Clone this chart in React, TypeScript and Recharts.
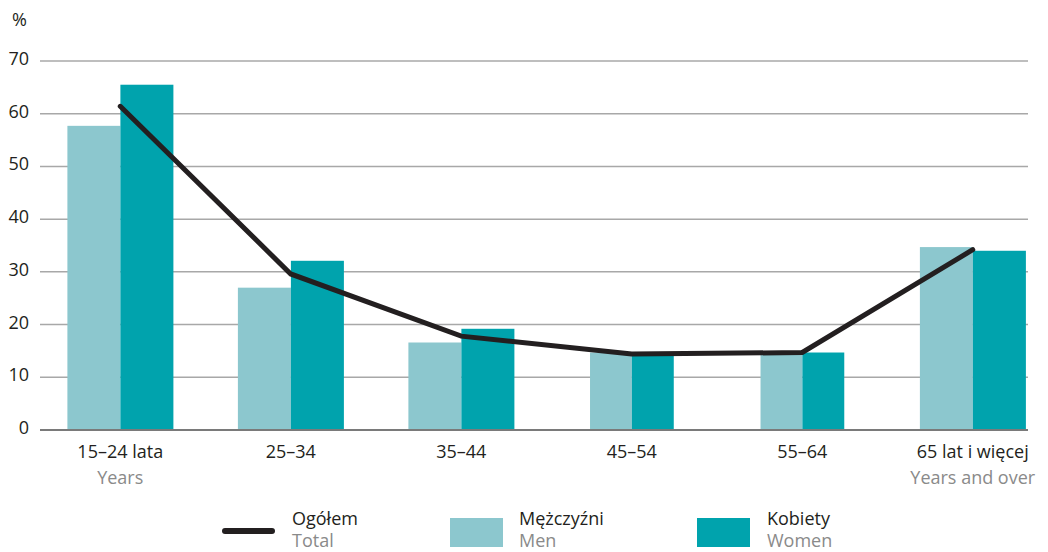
import { ComposedChart, Bar, Line, XAxis, YAxis, CartesianGrid } from "recharts";

const CATEGORIES = ["15–24 lata", "25–34", "35–44", "45–54", "55–64", "65 lat i więcej"];
const SUBLABELS = ["Years", "", "", "", "", "Years and over"];
const MEN = [57.7, 27.0, 16.6, 14.7, 14.6, 34.7];
const WOMEN = [65.5, 32.1, 19.2, 14.7, 14.7, 34.0];
const TOTAL = [61.4, 29.6, 17.8, 14.4, 14.7, 34.2];
const Y_TICKS = [0, 10, 20, 30, 40, 50, 60, 70];

// the two middle groups are drawn with slimmer bars in the original
const SLIM = ["45–54", "55–64"];

const MEN_COLOR = "#8cc7ce";
const WOMEN_COLOR = "#00a3ad";
const LINE_COLOR = "#231f20";
const SUB_COLOR = "#8a8a8a";
const FONT = "'Open Sans', sans-serif";

const data = CATEGORIES.map((cat, i) => ({
  cat,
  sub: SUBLABELS[i],
  men: MEN[i],
  women: WOMEN[i],
  total: TOTAL[i],
}));

const barShape = (side: "left" | "right") => (props: any) => {
  const { x, y, width, height, fill, payload } = props;
  const w = SLIM.includes(payload.cat) ? width * 0.79 : width;
  const nx = side === "left" ? x + width - w : x;
  return <rect x={nx} y={y} width={w} height={height} fill={fill} />;
};

const XTick = (props: any) => {
  const { x, y, payload, index } = props;
  const sub = SUBLABELS[index];
  return (
    <g>
      <text x={x} y={y + 28} textAnchor="middle" fill={LINE_COLOR} fontSize={18} fontFamily={FONT}>
        {payload.value}
      </text>
      {sub && (
        <text x={x} y={y + 54} textAnchor="middle" fill={SUB_COLOR} fontSize={18} fontFamily={FONT}>
          {sub}
        </text>
      )}
    </g>
  );
};

const YTick = (props: any) => {
  const { x, y, payload } = props;
  return (
    <text x={x} y={y + 4} textAnchor="end" fill={LINE_COLOR} fontSize={18} fontFamily={FONT}>
      {payload.value}
    </text>
  );
};

const legendText = { position: "absolute" as const, fontSize: 18, fontFamily: FONT, lineHeight: "22px" };

const LegendItem = ({ left, title, sub }: { left: number; title: string; sub: string }) => (
  <div style={{ ...legendText, left, top: 507 }}>
    <div style={{ color: LINE_COLOR }}>{title}</div>
    <div style={{ color: SUB_COLOR }}>{sub}</div>
  </div>
);

export default function App() {
  return (
    <div style={{ position: "absolute", left: 0, top: 0, width: 1048, height: 552, background: "#fff", overflow: "hidden" }}>
      <div style={{ position: "absolute", left: 12, top: 7, fontSize: 18, fontFamily: FONT, color: LINE_COLOR }}>%</div>
      <ComposedChart
        width={1048}
        height={552}
        data={data}
        margin={{ top: 61, right: 20, bottom: 62, left: 0 }}
        barCategoryGap="19%"
        barGap={0}
      >
        <CartesianGrid vertical={false} stroke="#a8a8a8" strokeWidth={1.5} />
        <XAxis
          dataKey="cat"
          height={60}
          padding={{ left: -5, right: -30 }}
          tickLine={false}
          tickSize={0}
          tickMargin={0}
          axisLine={{ stroke: "#7a7a7a", strokeWidth: 2 }}
          tick={<XTick />}
          interval={0}
        />
        <YAxis
          width={40}
          domain={[0, 70]}
          ticks={Y_TICKS}
          axisLine={false}
          tickLine={false}
          tickSize={0}
          tickMargin={11}
          tick={<YTick />}
        />
        <Bar dataKey="men" fill={MEN_COLOR} shape={barShape("left")} isAnimationActive={false} />
        <Bar dataKey="women" fill={WOMEN_COLOR} shape={barShape("right")} isAnimationActive={false} />
        <Line
          dataKey="total"
          type="linear"
          stroke={LINE_COLOR}
          strokeWidth={5}
          strokeLinecap="round"
          dot={false}
          activeDot={false}
          isAnimationActive={false}
        />
      </ComposedChart>
      <div style={{ position: "absolute", left: 222, top: 528, width: 53, height: 6, borderRadius: 3, background: LINE_COLOR }} />
      <LegendItem left={292} title="Ogółem" sub="Total" />
      <div style={{ position: "absolute", left: 450, top: 518, width: 53, height: 29, background: MEN_COLOR }} />
      <LegendItem left={519} title="Mężczyźni" sub="Men" />
      <div style={{ position: "absolute", left: 697, top: 518, width: 53, height: 29, background: WOMEN_COLOR }} />
      <LegendItem left={767} title="Kobiety" sub="Women" />
    </div>
  );
}
